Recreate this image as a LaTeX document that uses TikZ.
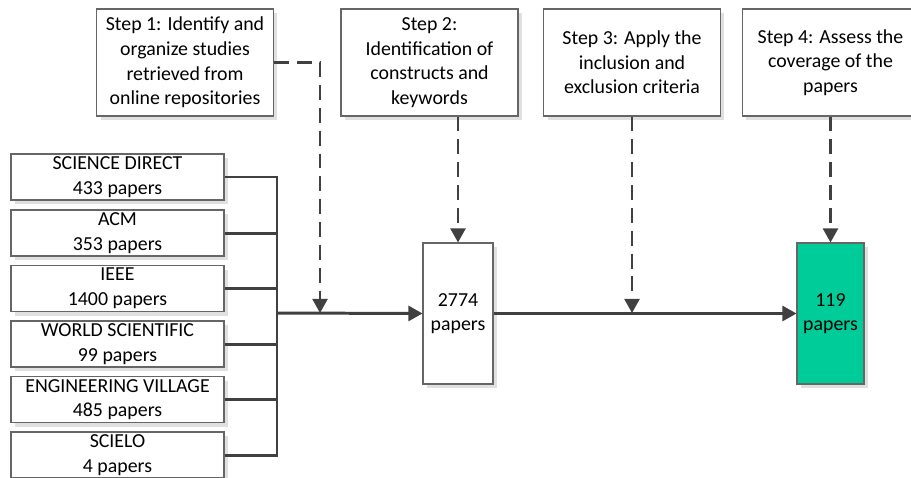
\documentclass[tikz,border=0pt]{standalone}
\usepackage{fontspec}
\setmainfont{Carlito}
\usepackage{tikz}
\usetikzlibrary{arrows.meta,shadows}
\definecolor{ln}{HTML}{404040}
\definecolor{bx}{HTML}{666666}
\definecolor{keep}{HTML}{00CC99}
\tikzset{
  box/.style={rectangle,draw=bx,fill=white,line width=.6pt,inner sep=1pt,align=center,
    font=\fontsize{11.3}{14}\selectfont,
    drop shadow={shadow xshift=.08cm,shadow yshift=-.08cm,fill=black!12,opacity=1}},
  src/.style={box,minimum width=4.26cm,minimum height=.92cm},
  stp/.style={box,minimum width=3.54cm,minimum height=2.14cm},
  res/.style={box,minimum height=2.82cm},
  wire/.style={draw=ln,line width=1.7pt},
  dsh/.style={draw=ln,line width=1.4pt,dash pattern=on 8.5pt off 4.5pt},
  tip/.style={-{Triangle[length=8pt,width=8.5pt]}},
}
\begin{document}
\begin{tikzpicture}[x=0.02cm,y=-0.02cm]
\clip (0,0) rectangle (911,477);
% repositories, stacked on the left
\node[src] (s1) at (117.5,177)   {SCIENCE DIRECT\\433 papers};
\node[src] (s2) at (117.5,233)   {ACM\\353 papers};
\node[src] (s3) at (117.5,288.5) {IEEE\\1400 papers};
\node[src] (s4) at (117.5,344)   {WORLD SCIENTIFIC\\99 papers};
\node[src] (s5) at (117.5,399.5) {ENGINEERING VILLAGE\\485 papers};
\node[src] (s6) at (117.5,455)   {SCIELO\\4 papers};
% the four steps along the top
\node[stp] (st1) at (185,62.5)   {Step 1: Identify and\\organize studies\\retrieved from\\online repositories};
\node[stp] (st2) at (429.5,62.5) {Step 2:\\Identification of\\constructs and\\keywords};
\node[stp] (st3) at (632,62.5)   {Step 3: Apply the\\inclusion and\\exclusion criteria};
\node[stp] (st4) at (830.5,62.5) {Step 4: Assess the\\coverage of the\\papers};
% results
\node[res,minimum width=1.4cm]  (r1) at (458,313.5)   {2774\\papers};
\node[res,minimum width=1.34cm,fill=keep] (r2) at (830.5,313.5) {119\\papers};
% bus and joins
\coordinate (bus) at (277,313);
\coordinate (j1) at (320,313);
\coordinate (j3) at (632,313);
\foreach \s in {s1,s2,s3,s4,s5,s6}
  \draw[wire] (\s.east) -| (bus);
\draw[wire,tip] (bus) -- (r1.west);
\draw[wire,tip] (r1.east) -- (r2.west);
% steps feed into the flow
\draw[dsh,tip] (st1.east) -| (j1);
\draw[dsh,tip] (r1.north |- st2.south) -- (r1.north);
\draw[dsh,tip] (st3.south) -- (j3);
\draw[dsh,tip] (r2.north |- st4.south) -- (r2.north);
\end{tikzpicture}
\end{document}
